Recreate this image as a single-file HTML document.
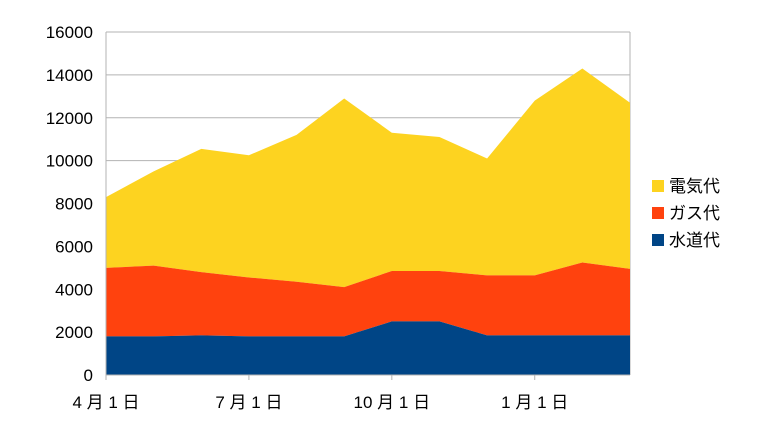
<!DOCTYPE html>
<html><head><meta charset="utf-8"><style>
body{margin:0;background:#fff;width:768px;height:432px;overflow:hidden;font-family:"Liberation Sans","Noto Sans CJK JP",sans-serif}
</style></head><body>
<svg id="chart" width="768" height="432" xmlns="http://www.w3.org/2000/svg" font-family="Liberation Sans, Noto Sans CJK JP, sans-serif"></svg>
<script>
const months=["4月","5月","6月","7月","8月","9月","10月","11月","12月","1月","2月","3月"];
const water=[1800,1800,1850,1800,1800,1800,2500,2500,1850,1850,1850,1850];
const gas=[3200,3300,2950,2750,2550,2300,2350,2350,2800,2800,3400,3100];
const elec=[3300,4400,5750,5700,6850,8800,6450,6250,5450,8150,9050,7750];
const yTicks=[0,2000,4000,6000,8000,10000,12000,14000,16000];
const xLabels=["4 月 1 日","7 月 1 日","10 月 1 日","1 月 1 日"];
const xLabelIdx=[0,3,6,9];
const seriesNames=["電気代","ガス代","水道代"];
const colors={"電気代":"#fdd320","ガス代":"#ff420e","水道代":"#004586"};
const X0=106,X1=630,Y0=375,Y1=32,YMAX=16000;
const xs=i=>X0+(X1-X0)*i/(months.length-1);
const ys=v=>Y0-(Y0-Y1)*v/YMAX;
const svg=document.getElementById('chart');
const NS="http://www.w3.org/2000/svg";
function mk(t,a){const e=document.createElementNS(NS,t);for(const k in a)e.setAttribute(k,a[k]);svg.appendChild(e);return e;}
// grid
yTicks.forEach(v=>{
 const l=mk('line',{x1:X0,x2:X1,y1:ys(v),y2:ys(v),stroke:'#b3b3b3','stroke-width':1});
 
 
 const t=mk('text',{x:93,y:ys(v)+6,'text-anchor':'end','font-size':17,fill:'#000'});
 t.textContent=v;
 
 
});
const vl=mk('line',{x1:X1,x2:X1,y1:Y1,y2:Y0,stroke:'#b3b3b3'});


// stacks
const s1=water,s2=water.map((w,i)=>w+gas[i]),s3=s2.map((g,i)=>g+elec[i]);
function area(top,bot,c,name){
 let d='M'+xs(0)+','+ys(top[0]);
 for(let i=1;i<top.length;i++)d+='L'+xs(i)+','+ys(top[i]);
 for(let i=bot.length-1;i>=0;i--)d+='L'+xs(i)+','+ys(bot[i]);
 const p=mk('path',{d:d+'Z',fill:c});
 
 
}
area(s3,s2,colors["電気代"],'area-electricity');
area(s2,s1,colors["ガス代"],'area-gas');
area(s1,water.map(()=>0),colors["水道代"],'area-water');
// axes
const ax=mk('line',{x1:X0,x2:X1,y1:Y0,y2:Y0,stroke:'#b3b3b3'});


const ay=mk('line',{x1:X0,x2:X0,y1:Y1,y2:Y0+5,stroke:'#b3b3b3'});


xLabelIdx.forEach((idx,k)=>{
 const tk=mk('line',{x1:xs(idx),x2:xs(idx),y1:Y0,y2:Y0+5,stroke:'#b3b3b3'});
 
 
 const t=mk('text',{x:xs(idx),y:408,'text-anchor':'middle','font-size':17,fill:'#000'});
 t.textContent=xLabels[k];
 
 
});
// legend
seriesNames.forEach((n,i)=>{
 const y=187+i*27;
 const r=mk('rect',{x:652,y:y-7,width:12,height:12,fill:colors[n]});
 
 
 const t=mk('text',{x:669,y:y+5,'font-size':17,fill:'#000'});
 t.textContent=n;
 
 
});
</script>
</body></html>
